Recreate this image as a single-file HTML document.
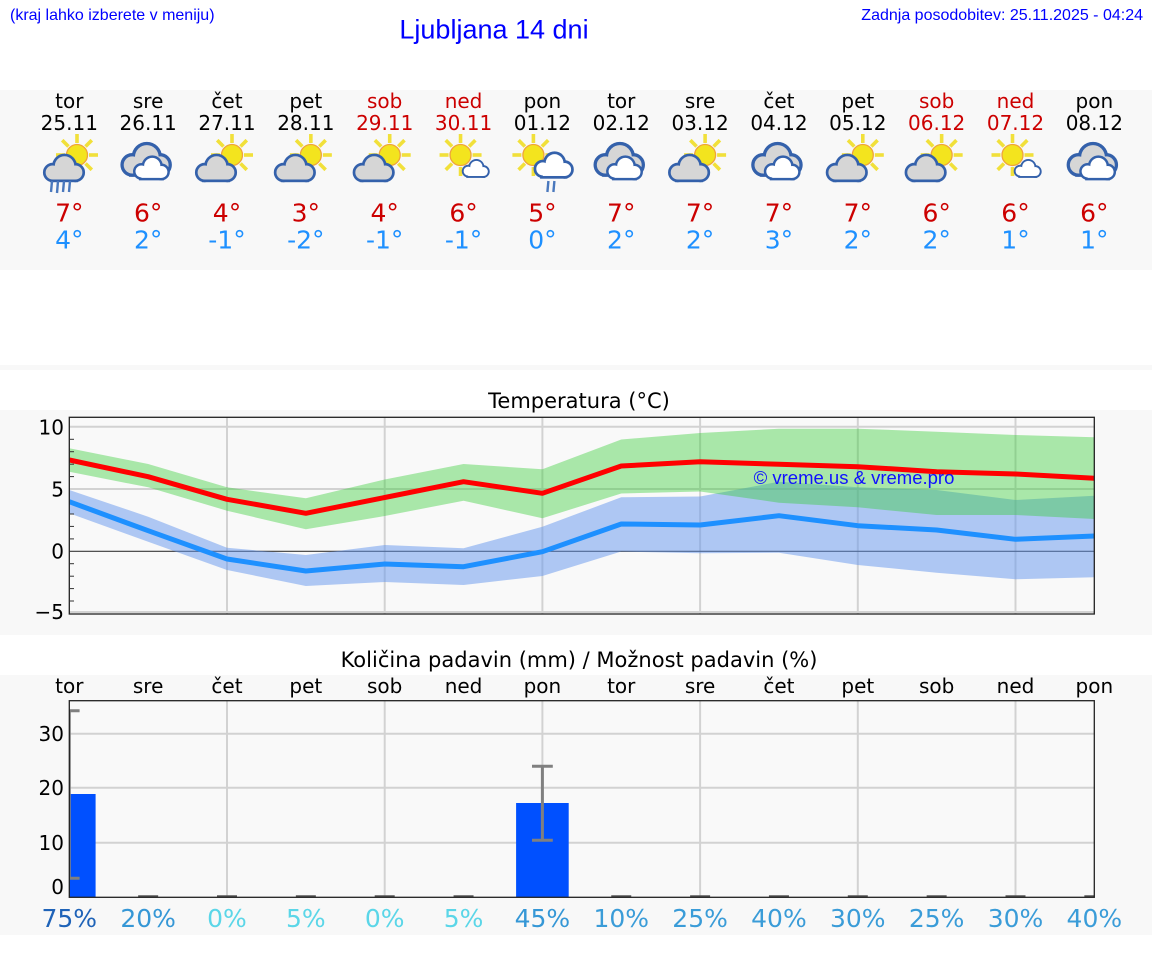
<!DOCTYPE html>
<html><head><meta charset="utf-8">
<style>
html,body{margin:0;padding:0;background:#fff;}
svg{display:block;}
.dj{font-family:"DejaVu Sans","Liberation Sans",sans-serif;}
.ls{font-family:"Liberation Sans",Arial,sans-serif;}
</style></head>
<body>
<svg width="1152" height="975" viewBox="0 0 1152 975" xmlns="http://www.w3.org/2000/svg">
<defs>
  <g id="sun">
    <g stroke="#f1e03a" stroke-width="3.6" stroke-linecap="butt">
      <line x1="12" y1="0" x2="21" y2="0"/>
      <line x1="8.5" y1="8.5" x2="14.8" y2="14.8"/>
      <line x1="0" y1="12" x2="0" y2="21"/>
      <line x1="-8.5" y1="8.5" x2="-14.8" y2="14.8"/>
      <line x1="-12" y1="0" x2="-21" y2="0"/>
      <line x1="-8.5" y1="-8.5" x2="-14.8" y2="-14.8"/>
      <line x1="0" y1="-12" x2="0" y2="-21"/>
      <line x1="8.5" y1="-8.5" x2="14.8" y2="-14.8"/>
    </g>
    <circle r="10.5" fill="#f3e41e" stroke="#efa43a" stroke-width="1.3"/>
  </g>
  <g id="gcloud">
    <g stroke="#3461ab" stroke-width="5" fill="#3461ab">
      <circle cx="-10.5" cy="6" r="6.5"/><circle cx="0.5" cy="0" r="9"/><circle cx="10.5" cy="6" r="6.5"/>
      <rect x="-10.5" y="5" width="21" height="7.5"/>
    </g>
    <g fill="#d6d6d6">
      <circle cx="-10.5" cy="6" r="6.5"/><circle cx="0.5" cy="0" r="9"/><circle cx="10.5" cy="6" r="6.5"/>
      <rect x="-10.5" y="5" width="21" height="7.5"/>
    </g>
  </g>
  <g id="wcloud">
    <g stroke="#3461ab" stroke-width="4.6" fill="#3461ab">
      <circle cx="-9" cy="5" r="5.5"/><circle cx="1" cy="0" r="7.5"/><circle cx="9.5" cy="5.5" r="5.5"/>
      <rect x="-9" y="4.5" width="18.5" height="6.5"/>
    </g>
    <g fill="#ffffff">
      <circle cx="-9" cy="5" r="5.5"/><circle cx="1" cy="0" r="7.5"/><circle cx="9.5" cy="5.5" r="5.5"/>
      <rect x="-9" y="4.5" width="18.5" height="6.5"/>
    </g>
  </g>
  <g id="i_pc">
    <use href="#sun" x="5" y="-5"/>
    <g transform="translate(-11,6) scale(1.08)"><use href="#gcloud"/></g>
  </g>
  <g id="i_rain">
    <use href="#sun" x="9" y="-5"/>
    <g transform="translate(-4,6) scale(1.08)"><use href="#gcloud"/></g>
    <g stroke="#4a78bd" stroke-width="2.4">
      <line x1="-16" y1="21" x2="-17" y2="32"/>
      <line x1="-10" y1="21" x2="-11" y2="33"/>
      <line x1="-4" y1="21" x2="-5" y2="32"/>
      <line x1="2" y1="21" x2="1" y2="32"/>
    </g>
  </g>
  <g id="i_cl">
    <g transform="translate(-2,-3) scale(1.32)"><use href="#gcloud"/></g>
    <g transform="translate(3,6) scale(1.08)"><use href="#wcloud"/></g>
  </g>
  <g id="i_ms">
    <use href="#sun" x="-3" y="-5"/>
    <g transform="translate(12,7) scale(0.82)"><use href="#wcloud"/></g>
  </g>
  <g id="i_rs">
    <use href="#sun" x="-9" y="-5"/>
    <g transform="translate(11,3) scale(1.18)"><use href="#wcloud"/></g>
    <g stroke="#4a78bd" stroke-width="2.4">
      <line x1="6" y1="21" x2="5" y2="32"/>
      <line x1="12" y1="21" x2="11" y2="32"/>
    </g>
  </g>
  <clipPath id="tclip"><rect x="69.3" y="417.3" width="1025" height="196.7"/></clipPath>
  <clipPath id="pclip"><rect x="69.3" y="700.7" width="1025" height="196.6"/></clipPath>
</defs>

<rect width="1152" height="975" fill="#ffffff"/>

<!-- header -->
<text class="ls" x="10" y="20" font-size="16" fill="#0000ff">(kraj lahko izberete v meniju)</text>
<text class="ls" x="494" y="38.5" font-size="27" fill="#0000ff" text-anchor="middle">Ljubljana 14 dni</text>
<text class="ls" x="1143" y="20" font-size="16" fill="#0000ff" text-anchor="end">Zadnja posodobitev: 25.11.2025 - 04:24</text>

<!-- top panel -->
<rect x="0" y="90" width="1152" height="180" fill="#f8f8f8"/>
<rect x="0" y="365" width="1152" height="5" fill="#f8f8f8"/>

<g class="dj" font-size="20" text-anchor="middle">
  <text x="69.3" y="108">tor</text><text x="69.3" y="130">25.11</text>
  <text x="148.15" y="108">sre</text><text x="148.15" y="130">26.11</text>
  <text x="227" y="108">čet</text><text x="227" y="130">27.11</text>
  <text x="305.85" y="108">pet</text><text x="305.85" y="130">28.11</text>
  <g fill="#cc0000"><text x="384.7" y="108">sob</text><text x="384.7" y="130">29.11</text>
  <text x="463.55" y="108">ned</text><text x="463.55" y="130">30.11</text></g>
  <text x="542.4" y="108">pon</text><text x="542.4" y="130">01.12</text>
  <text x="621.25" y="108">tor</text><text x="621.25" y="130">02.12</text>
  <text x="700.1" y="108">sre</text><text x="700.1" y="130">03.12</text>
  <text x="778.95" y="108">čet</text><text x="778.95" y="130">04.12</text>
  <text x="857.8" y="108">pet</text><text x="857.8" y="130">05.12</text>
  <g fill="#cc0000"><text x="936.65" y="108">sob</text><text x="936.65" y="130">06.12</text>
  <text x="1015.5" y="108">ned</text><text x="1015.5" y="130">07.12</text></g>
  <text x="1094.35" y="108">pon</text><text x="1094.35" y="130">08.12</text>
</g>

<!-- icons -->
<use href="#i_rain" x="68" y="160"/>
<use href="#i_cl" x="148.15" y="160"/>
<use href="#i_pc" x="227" y="160"/>
<use href="#i_pc" x="305.85" y="160"/>
<use href="#i_pc" x="384.7" y="160"/>
<use href="#i_ms" x="463.55" y="160"/>
<use href="#i_rs" x="542.4" y="160"/>
<use href="#i_cl" x="621.25" y="160"/>
<use href="#i_pc" x="700.1" y="160"/>
<use href="#i_cl" x="778.95" y="160"/>
<use href="#i_pc" x="857.8" y="160"/>
<use href="#i_pc" x="936.65" y="160"/>
<use href="#i_ms" x="1015.5" y="160"/>
<use href="#i_cl" x="1094.35" y="160"/>

<g class="dj" font-size="25" text-anchor="middle">
  <g fill="#cc0000">
    <text x="69.3" y="221.5">7°</text><text x="148.15" y="221.5">6°</text><text x="227" y="221.5">4°</text>
    <text x="305.85" y="221.5">3°</text><text x="384.7" y="221.5">4°</text><text x="463.55" y="221.5">6°</text>
    <text x="542.4" y="221.5">5°</text><text x="621.25" y="221.5">7°</text><text x="700.1" y="221.5">7°</text>
    <text x="778.95" y="221.5">7°</text><text x="857.8" y="221.5">7°</text><text x="936.65" y="221.5">6°</text>
    <text x="1015.5" y="221.5">6°</text><text x="1094.35" y="221.5">6°</text>
  </g>
  <g fill="#1e90ff">
    <text x="69.3" y="248.5">4°</text><text x="148.15" y="248.5">2°</text><text x="227" y="248.5">-1°</text>
    <text x="305.85" y="248.5">-2°</text><text x="384.7" y="248.5">-1°</text><text x="463.55" y="248.5">-1°</text>
    <text x="542.4" y="248.5">0°</text><text x="621.25" y="248.5">2°</text><text x="700.1" y="248.5">2°</text>
    <text x="778.95" y="248.5">3°</text><text x="857.8" y="248.5">2°</text><text x="936.65" y="248.5">2°</text>
    <text x="1015.5" y="248.5">1°</text><text x="1094.35" y="248.5">1°</text>
  </g>
</g>

<!-- temperature chart -->
<rect x="0" y="410" width="1152" height="225" fill="#f8f8f8"/>
<text class="dj" x="579" y="408" font-size="21" text-anchor="middle">Temperatura (°C)</text>
<rect x="69.3" y="417.3" width="1025" height="196.7" fill="#f9f9f9"/>
<g stroke="#d2d2d2" stroke-width="2">
  <line x1="69.3" y1="426.8" x2="1094.35" y2="426.8"/>
  <line x1="69.3" y1="489" x2="1094.35" y2="489"/>
  <line x1="69.3" y1="612" x2="1094.35" y2="612"/>
  <line x1="227" y1="417.3" x2="227" y2="614"/>
  <line x1="384.7" y1="417.3" x2="384.7" y2="614"/>
  <line x1="542.4" y1="417.3" x2="542.4" y2="614"/>
  <line x1="700.1" y1="417.3" x2="700.1" y2="614"/>
  <line x1="857.8" y1="417.3" x2="857.8" y2="614"/>
  <line x1="1015.5" y1="417.3" x2="1015.5" y2="614"/>
</g>
<line x1="69.3" y1="551.3" x2="1094.35" y2="551.3" stroke="#3a3a3a" stroke-width="1.2"/>
<g clip-path="url(#tclip)">
  <polygon fill="#6495ed" fill-opacity="0.5" points="69.3,490 148.15,516.7 227,547.7 305.85,555 384.7,545 463.55,548.3 542.4,526.7 621.25,497.3 700.1,496.5 778.95,481.7 857.8,487.3 936.65,490 1015.5,500 1094.35,495.7 1094.35,577.3 1015.5,579.3 936.65,572.7 857.8,565 778.95,552.7 700.1,553.3 621.25,551.5 542.4,576 463.55,585 384.7,582 305.85,586 227,570 148.15,541.7 69.3,513.3"/>
  <polygon fill="#32cd32" fill-opacity="0.4" points="69.3,448.3 148.15,464 227,487.3 305.85,498.3 384.7,479.5 463.55,464 542.4,469.3 621.25,439.5 700.1,433 778.95,428.7 857.8,428.7 936.65,431.7 1015.5,435 1094.35,437.3 1094.35,519 1015.5,515 936.65,515 857.8,507.3 778.95,502.7 700.1,491.5 621.25,493.5 542.4,518.3 463.55,500.7 384.7,516 305.85,529.3 227,510.7 148.15,487.3 69.3,471.7"/>
  <polyline fill="none" stroke="#ff0000" stroke-width="5" stroke-linejoin="round" points="69.3,460 148.15,476.7 227,499.3 305.85,513.3 384.7,497.5 463.55,481.7 542.4,493.3 621.25,466 700.1,461.7 778.95,464.3 857.8,466.7 936.65,471.7 1015.5,474 1094.35,478.3"/>
  <polyline fill="none" stroke="#1e90ff" stroke-width="5" stroke-linejoin="round" points="69.3,501.7 148.15,530.7 227,559 305.85,571 384.7,564 463.55,566.7 542.4,551.7 621.25,524 700.1,525 778.95,515.7 857.8,525.7 936.65,530 1015.5,539.3 1094.35,536"/>
</g>
<text class="ls" x="854" y="484" font-size="18.5" fill="#1010ff" text-anchor="middle">© vreme.us &amp; vreme.pro</text>
<rect x="69.3" y="417.3" width="1025" height="196.7" fill="none" stroke="#222" stroke-width="1.3"/>
<g stroke="#333" stroke-width="1">
  <line x1="69.3" y1="439.3" x2="74" y2="439.3"/><line x1="69.3" y1="451.7" x2="74" y2="451.7"/>
  <line x1="69.3" y1="464.2" x2="74" y2="464.2"/><line x1="69.3" y1="476.6" x2="74" y2="476.6"/>
  <line x1="69.3" y1="514" x2="74" y2="514"/><line x1="69.3" y1="526.4" x2="74" y2="526.4"/>
  <line x1="69.3" y1="538.9" x2="74" y2="538.9"/><line x1="69.3" y1="563.7" x2="74" y2="563.7"/>
  <line x1="69.3" y1="576.2" x2="74" y2="576.2"/><line x1="69.3" y1="588.6" x2="74" y2="588.6"/>
  <line x1="69.3" y1="601" x2="74" y2="601"/>
</g>
<g class="dj" font-size="20" text-anchor="end">
  <text x="64" y="434.3">10</text>
  <text x="64" y="496.3">5</text>
  <text x="64" y="558.6">0</text>
  <text x="64" y="619">−5</text>
</g>

<!-- precipitation chart -->
<rect x="0" y="675" width="1152" height="260" fill="#f8f8f8"/>
<text class="dj" x="579" y="667" font-size="21" text-anchor="middle">Količina padavin (mm) / Možnost padavin (%)</text>
<g class="dj" font-size="20" text-anchor="middle">
  <text x="69.3" y="693">tor</text><text x="148.15" y="693">sre</text><text x="227" y="693">čet</text>
  <text x="305.85" y="693">pet</text><text x="384.7" y="693">sob</text><text x="463.55" y="693">ned</text>
  <text x="542.4" y="693">pon</text><text x="621.25" y="693">tor</text><text x="700.1" y="693">sre</text>
  <text x="778.95" y="693">čet</text><text x="857.8" y="693">pet</text><text x="936.65" y="693">sob</text>
  <text x="1015.5" y="693">ned</text><text x="1094.35" y="693">pon</text>
</g>
<rect x="69.3" y="700.7" width="1025" height="196.6" fill="#f9f9f9"/>
<g stroke="#d2d2d2" stroke-width="2">
  <line x1="69.3" y1="733.7" x2="1094.35" y2="733.7"/>
  <line x1="69.3" y1="787.7" x2="1094.35" y2="787.7"/>
  <line x1="69.3" y1="842.7" x2="1094.35" y2="842.7"/>
  <line x1="227" y1="700.7" x2="227" y2="897.3"/>
  <line x1="384.7" y1="700.7" x2="384.7" y2="897.3"/>
  <line x1="542.4" y1="700.7" x2="542.4" y2="897.3"/>
  <line x1="700.1" y1="700.7" x2="700.1" y2="897.3"/>
  <line x1="857.8" y1="700.7" x2="857.8" y2="897.3"/>
  <line x1="1015.5" y1="700.7" x2="1015.5" y2="897.3"/>
</g>
<g clip-path="url(#pclip)">
  <rect x="69.3" y="794" width="26.3" height="103.3" fill="#0050ff"/>
  <rect x="516.1" y="803" width="52.6" height="94.3" fill="#0050ff"/>
  <g stroke="#808080" stroke-width="3">
    <line x1="69.3" y1="710.7" x2="69.3" y2="878.3"/>
    <line x1="59" y1="710.7" x2="79.6" y2="710.7"/>
    <line x1="59" y1="878.3" x2="79.6" y2="878.3"/>
    <line x1="542.4" y1="766.3" x2="542.4" y2="840.3"/>
    <line x1="532" y1="766.3" x2="552.8" y2="766.3"/>
    <line x1="532" y1="840.3" x2="552.8" y2="840.3"/>
  </g>
  <g stroke="#555" stroke-width="2.5">
    <line x1="138.15" y1="896.5" x2="158.15" y2="896.5"/>
    <line x1="217" y1="896.5" x2="237" y2="896.5"/>
    <line x1="295.85" y1="896.5" x2="315.85" y2="896.5"/>
    <line x1="374.7" y1="896.5" x2="394.7" y2="896.5"/>
    <line x1="453.55" y1="896.5" x2="473.55" y2="896.5"/>
    <line x1="611.25" y1="896.5" x2="631.25" y2="896.5"/>
    <line x1="690.1" y1="896.5" x2="710.1" y2="896.5"/>
    <line x1="768.95" y1="896.5" x2="788.95" y2="896.5"/>
    <line x1="847.8" y1="896.5" x2="867.8" y2="896.5"/>
    <line x1="926.65" y1="896.5" x2="946.65" y2="896.5"/>
    <line x1="1005.5" y1="896.5" x2="1025.5" y2="896.5"/>
    <line x1="1084.35" y1="896.5" x2="1104.35" y2="896.5"/>
  </g>
</g>
<rect x="69.3" y="700.7" width="1025" height="196.6" fill="none" stroke="#222" stroke-width="1.3"/>
<g class="dj" font-size="20" text-anchor="end">
  <text x="64" y="741">30</text>
  <text x="64" y="795">20</text>
  <text x="64" y="850">10</text>
  <text x="64" y="894">0</text>
</g>
<g class="dj" font-size="25" text-anchor="middle">
  <text x="69.3" y="927" fill="#1f63b8">75%</text>
  <text x="148.15" y="927" fill="#3597d6">20%</text>
  <text x="227" y="927" fill="#5bd6e8">0%</text>
  <text x="305.85" y="927" fill="#5bd6e8">5%</text>
  <text x="384.7" y="927" fill="#5bd6e8">0%</text>
  <text x="463.55" y="927" fill="#5bd6e8">5%</text>
  <text x="542.4" y="927" fill="#3597d6">45%</text>
  <text x="621.25" y="927" fill="#3a9cd8">10%</text>
  <text x="700.1" y="927" fill="#3a9cd8">25%</text>
  <text x="778.95" y="927" fill="#3a9cd8">40%</text>
  <text x="857.8" y="927" fill="#3a9cd8">30%</text>
  <text x="936.65" y="927" fill="#3a9cd8">25%</text>
  <text x="1015.5" y="927" fill="#3a9cd8">30%</text>
  <text x="1094.35" y="927" fill="#3a9cd8">40%</text>
</g>
</svg>
</body></html>
